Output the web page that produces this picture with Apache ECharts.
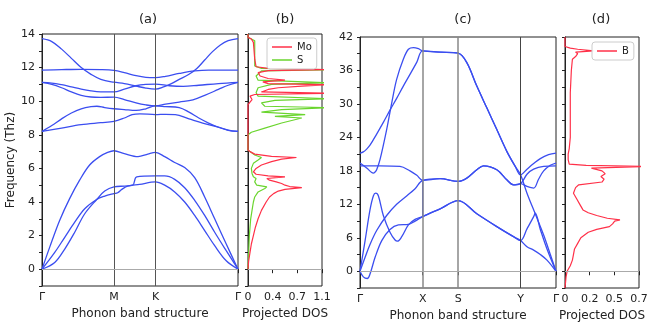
<!DOCTYPE html>
<html><head><meta charset="utf-8">
<script src="https://cdn.jsdelivr.net/npm/echarts@6/dist/echarts.min.js"></script>
<style>html,body{margin:0;padding:0;background:#fff}#c{width:657px;height:332px}</style>
</head><body><div id="c"></div>
<script>
// ---------- panel (a): MoS2 band structure (k as fraction of path) ----------
const aTickPos = [0, 0.367, 0.579, 1];
const aTickLabels = ['Γ', 'M', 'K', 'Γ'];
const aBandLA = [[0,0],[0.039,1.3],[0.09,2.9],[0.141,4.2],[0.192,5.3],[0.243,6.2],[0.294,6.7],[0.335,6.95],[0.367,7.05],[0.42,6.88],[0.49,6.7],[0.54,6.85],[0.579,6.95],[0.626,6.7],[0.677,6.35],[0.728,6.05],[0.779,5.45],[0.83,4.3],[0.881,3.0],[0.94,1.5],[1,0]];
const aBandTA = [[0,0],[0.065,1.0],[0.116,1.9],[0.167,2.8],[0.218,3.6],[0.279,4.15],[0.32,4.35],[0.367,4.5],[0.386,4.55],[0.407,4.75],[0.437,4.95],[0.498,5.05],[0.579,5.2],[0.626,5.0],[0.677,4.6],[0.728,4.0],[0.779,3.2],[0.83,2.3],[0.881,1.4],[0.94,0.5],[1,0]];
const aBandZA = [[0,0],[0.065,0.4],[0.116,1.2],[0.167,2.2],[0.218,3.3],[0.279,4.15],[0.32,4.65],[0.367,4.9],[0.422,4.95],[0.463,5.0],[0.483,5.5],[0.579,5.55],[0.626,5.55],[0.677,5.35],[0.728,4.85],[0.779,4.1],[0.83,3.2],[0.881,2.2],[0.94,1.1],[1,0]];
const aBandO1 = [[0,8.2],[0.1,8.4],[0.2,8.6],[0.3,8.72],[0.367,8.8],[0.42,9.0],[0.46,9.2],[0.5,9.25],[0.579,9.2],[0.63,9.22],[0.68,9.2],[0.75,8.95],[0.82,8.7],[0.9,8.45],[0.95,8.28],[1,8.2]];
const aBandO2 = [[0,8.2],[0.05,8.55],[0.1,8.95],[0.15,9.3],[0.2,9.55],[0.25,9.68],[0.28,9.7],[0.32,9.62],[0.367,9.55],[0.42,9.5],[0.48,9.45],[0.53,9.55],[0.579,9.72],[0.63,9.68],[0.7,9.62],[0.75,9.35],[0.8,9.0],[0.85,8.7],[0.9,8.45],[0.95,8.27],[1,8.2]];
const aBandO3 = [[0,11.12],[0.05,11.0],[0.1,10.8],[0.15,10.55],[0.2,10.35],[0.25,10.25],[0.3,10.23],[0.367,10.24],[0.42,10.1],[0.48,9.9],[0.53,9.78],[0.579,9.72],[0.63,9.82],[0.7,9.95],[0.77,10.08],[0.83,10.35],[0.9,10.7],[0.95,10.95],[1,11.12]];
const aBandO4 = [[0,11.12],[0.05,11.08],[0.1,10.98],[0.15,10.85],[0.2,10.72],[0.25,10.62],[0.3,10.56],[0.367,10.55],[0.42,10.72],[0.48,10.92],[0.53,11.0],[0.579,11.02],[0.65,10.92],[0.72,10.88],[0.8,10.95],[0.9,11.05],[1,11.12]];
const aBandO5 = [[0,11.85],[0.1,11.88],[0.2,11.9],[0.3,11.88],[0.367,11.83],[0.42,11.7],[0.48,11.52],[0.53,11.42],[0.579,11.4],[0.63,11.48],[0.7,11.65],[0.78,11.8],[0.85,11.85],[1,11.85]];
const aBandO6 = [[0,13.72],[0.05,13.55],[0.1,13.1],[0.15,12.55],[0.2,12.0],[0.25,11.6],[0.3,11.3],[0.367,11.13],[0.42,11.05],[0.48,10.9],[0.53,10.78],[0.579,10.72],[0.62,10.85],[0.66,11.05],[0.7,11.3],[0.75,11.6],[0.79,11.95],[0.83,12.45],[0.87,12.95],[0.91,13.35],[0.95,13.6],[1,13.72]];
const aBands = [aBandLA, aBandTA, aBandZA, aBandO1, aBandO2, aBandO3, aBandO4, aBandO5, aBandO6];

// ---------- panel (b): projected DOS, [frequency, DOS] ----------
const bMo = [[0,0],[0.5,0.01],[1,0.03],[1.5,0.05],[2,0.08],[2.5,0.11],[3,0.15],[3.5,0.2],[4,0.27],[4.3,0.32],[4.5,0.38],[4.65,0.45],[4.75,0.55],[4.85,0.8],[4.92,0.62],[5.0,0.55],[5.1,0.5],[5.2,0.42],[5.3,0.32],[5.4,0.28],[5.5,0.55],[5.55,0.3],[5.65,0.12],[5.8,0.08],[6.0,0.12],[6.2,0.2],[6.4,0.35],[6.55,0.5],[6.65,0.72],[6.72,0.35],[6.85,0.1],[7.0,0.03],[7.1,0],[9.8,0],[9.9,0.02],[10.1,0.06],[10.3,0.03],[10.4,0.1],[10.47,1.2],[10.55,0.2],[10.7,0.3],[10.8,0.45],[10.9,0.8],[10.98,1.2],[11.05,0.3],[11.15,0.22],[11.25,0.55],[11.35,0.3],[11.5,0.18],[11.7,0.15],[11.82,0.3],[11.88,1.2],[11.95,0.3],[12.05,0.12],[12.5,0.1],[13,0.09],[13.5,0.08],[13.7,0.05],[13.8,0],[14,0]];
const bS = [[0,0],[1,0.01],[2,0.02],[3,0.04],[3.5,0.06],[4,0.08],[4.3,0.1],[4.6,0.15],[4.8,0.25],[4.9,0.28],[5.0,0.13],[5.2,0.1],[5.4,0.12],[5.5,0.08],[5.7,0.06],[6.0,0.05],[6.3,0.08],[6.5,0.15],[6.65,0.2],[6.8,0.1],[7.0,0.03],[7.1,0],[8.0,0],[8.15,0.05],[8.4,0.25],[8.7,0.5],[9.0,0.8],[9.1,0.4],[9.2,0.85],[9.35,0.2],[9.5,0.5],[9.62,1.2],[9.7,0.25],[9.9,0.2],[10.05,0.4],[10.15,1.2],[10.3,0.15],[10.5,0.12],[10.8,0.15],[11.0,0.35],[11.1,1.2],[11.25,0.15],[11.5,0.12],[11.8,0.2],[11.87,1.2],[11.95,0.2],[12.1,0.1],[13,0.1],[13.6,0.1],[13.75,0.03],[13.8,0],[14,0]];
const bTicks = [0, 0.3667, 0.7333, 1.1];

// ---------- panel (c): boron band structure ----------
const cTickPos = [0, 0.320, 0.501, 0.819, 1];
const cTickLabels = ['Γ', 'X', 'S', 'Y', 'Γ'];
const cBand1 = [[0,21.2],[0.017,21.4],[0.034,21.9],[0.051,22.6],[0.085,24.6],[0.119,26.7],[0.153,28.9],[0.187,31.0],[0.221,33.2],[0.255,35.3],[0.29,37.5],[0.32,39.5],[0.409,39.3],[0.501,39.1],[0.545,37.4],[0.596,33.2],[0.647,29.3],[0.698,25.4],[0.749,21.5],[0.792,18.8],[0.819,17.3],[0.852,18.3],[0.886,19.3],[0.92,20.2],[0.962,20.9],[1,21.2]];
const cBand2 = [[0,19.4],[0.034,18.5],[0.06,17.7],[0.068,17.6],[0.077,17.8],[0.085,18.2],[0.102,20.0],[0.136,25.4],[0.162,30.2],[0.187,34.4],[0.221,38.0],[0.247,39.8],[0.273,40.1],[0.298,39.9],[0.32,39.5],[0.409,39.3],[0.501,39.1],[0.545,37.4],[0.596,33.2],[0.647,29.3],[0.698,25.4],[0.749,21.5],[0.792,18.8],[0.819,17.3],[0.852,14.0],[0.894,10.3],[0.937,6.5],[0.971,3.0],[1,0]];
const cBand3 = [[0,18.9],[0.102,18.9],[0.204,18.8],[0.255,18.0],[0.29,17.2],[0.32,16.3],[0.409,16.6],[0.501,16.1],[0.545,16.7],[0.596,18.2],[0.63,18.9],[0.698,18.2],[0.749,16.4],[0.783,15.5],[0.819,15.7],[0.852,15.2],[0.886,14.9],[0.911,16.5],[0.937,18.0],[0.971,19.0],[1,19.4]];
const cBand4 = [[0,0],[0.026,2.5],[0.051,4.8],[0.085,7.3],[0.136,10.0],[0.187,12.0],[0.238,13.5],[0.281,14.8],[0.32,16.3],[0.409,16.6],[0.501,16.1],[0.545,16.7],[0.596,18.2],[0.63,18.9],[0.698,18.2],[0.749,16.4],[0.783,15.5],[0.819,15.7],[0.852,17.4],[0.886,18.3],[0.937,18.8],[1,18.9]];
const cBand5 = [[0,0],[0.017,-1.0],[0.037,-1.3],[0.051,-0.5],[0.077,2.5],[0.111,5.5],[0.153,7.5],[0.196,8.3],[0.247,8.4],[0.281,9.0],[0.32,9.8],[0.409,11.2],[0.501,12.65],[0.596,10.3],[0.698,8.0],[0.783,6.2],[0.819,5.5],[0.852,7.6],[0.886,9.8],[0.894,10.4],[0.92,7.5],[0.954,4.0],[1,0]];
const cBand6 = [[0,0],[0.026,5.5],[0.051,11.0],[0.068,13.5],[0.08,14.0],[0.094,13.5],[0.119,10.0],[0.153,7.0],[0.179,5.6],[0.191,5.4],[0.213,6.2],[0.247,8.3],[0.281,9.3],[0.32,9.8],[0.409,11.2],[0.501,12.65],[0.596,10.3],[0.698,8.0],[0.783,6.2],[0.819,5.5],[0.852,4.4],[0.886,3.8],[0.92,3.0],[0.954,2.0],[1,0]];
const cBandX = [[0.32,9.8],[0.32,16.3]];
const cBands = [cBand1, cBand2, cBand3, cBand4, cBand5, cBand6, cBandX];

// ---------- panel (d): projected DOS of B ----------
const dB = [[-3,0],[-2,0.005],[-1,0.01],[0,0.02],[1,0.05],[2,0.07],[3,0.08],[4,0.09],[5,0.12],[6,0.15],[7,0.22],[7.5,0.3],[8,0.42],[8.5,0.45],[9,0.47],[9.2,0.52],[9.5,0.4],[10,0.3],[10.5,0.22],[11,0.17],[12,0.14],[13,0.11],[14,0.08],[15,0.1],[15.5,0.13],[16,0.35],[16.5,0.37],[17,0.34],[17.5,0.38],[18,0.35],[18.5,0.25],[18.8,0.8],[19.0,0.2],[19.2,0.04],[20,0.03],[21,0.03],[22,0.04],[24,0.05],[28,0.05],[32,0.05],[36,0.06],[38,0.07],[38.5,0.1],[39,0.12],[39.3,0.1],[39.5,0.27],[39.8,0.12],[40,0.05],[40.3,0],[42,0]];
const dTicks = [0, 0.2333, 0.4667, 0.7];

const BLUE = '#3b4ef0', RED = '#ff3048', GREEN = '#6ad52e';
const FONT = 'DejaVu Sans';
const chart = echarts.init(document.getElementById('c'));

const grids = [
  {left: 42, top: 34, width: 196, height: 252},
  {left: 248, top: 34, width: 74, height: 252},
  {left: 360, top: 37, width: 196, height: 251},
  {left: 565, top: 37, width: 74, height: 251}
].map(g => Object.assign({show: true, borderColor: '#222', borderWidth: 1, backgroundColor: 'transparent'}, g));

const lab = {fontFamily: FONT, fontSize: 11, color: '#222'};
function pathAxis(gi, pos, names) {
  return {type: 'value', gridIndex: gi, min: 0, max: 1,
    axisLine: {lineStyle: {color: '#222'}},
    axisTick: {customValues: pos, length: 4, lineStyle: {color: '#222'}},
    axisLabel: Object.assign({customValues: pos, margin: 6, formatter: v => {const i = pos.findIndex(p => Math.abs(p - v) < 1e-6); return i >= 0 ? names[i] : '';}}, lab),
    splitLine: {show: false},
    name: 'Phonon band structure', nameLocation: 'middle', nameGap: 19,
    nameTextStyle: {fontFamily: FONT, fontSize: 12, color: '#222'}};
}
function dosAxis(gi, max, ticks) {
  return {type: 'value', gridIndex: gi, min: 0, max: max,
    axisLine: {lineStyle: {color: '#222'}},
    axisTick: {customValues: ticks, length: 4, lineStyle: {color: '#222'}},
    axisLabel: Object.assign({customValues: ticks, margin: 6, formatter: v => v === 0 ? '0' : v.toFixed(1)}, lab),
    splitLine: {show: false},
    name: 'Projected DOS', nameLocation: 'middle', nameGap: 19,
    nameTextStyle: {fontFamily: FONT, fontSize: 12, color: '#222'}};
}
function freqAxis(gi, min, max, step, lblStep, showLabels, name) {
  return {type: 'value', gridIndex: gi, min: min, max: max, interval: step,
    axisLine: {lineStyle: {color: '#222'}},
    axisTick: {length: 3, lineStyle: {color: '#222'}},
    axisLabel: Object.assign({show: showLabels, margin: 7, formatter: v => (v >= 0 && Math.abs(v % lblStep) < 1e-6) ? String(v) : ''}, lab),
    splitLine: {show: false},
    name: name || '', nameLocation: 'middle', nameGap: 25, nameRotate: 90,
    nameTextStyle: {fontFamily: FONT, fontSize: 12, color: '#222'}};
}

const series = [];
const lineBase = {type: 'line', showSymbol: false, symbol: 'none', silent: true, animation: false};
aBands.forEach((b, i) => series.push(Object.assign({}, lineBase, {
  name: 'a' + i, xAxisIndex: 0, yAxisIndex: 0, data: b, smooth: 0.35,
  lineStyle: {color: BLUE, width: 1.3}, z: 3,
  markLine: i === 0 ? {silent: true, symbol: 'none', label: {show: false}, animation: false,
    data: [{xAxis: aTickPos[1], lineStyle: {color: '#555', width: 1, type: 'solid'}},
           {xAxis: aTickPos[2], lineStyle: {color: '#555', width: 1, type: 'solid'}},
           {yAxis: 0, lineStyle: {color: '#aaa', width: 1, type: 'solid'}}]} : undefined
})));
series.push(Object.assign({}, lineBase, {name: 'Mo', xAxisIndex: 1, yAxisIndex: 1,
  data: bMo.map(p => [p[1], p[0]]), lineStyle: {color: RED, width: 1.2}, itemStyle: {color: RED}, z: 4,
  markLine: {silent: true, symbol: 'none', label: {show: false}, animation: false,
    data: [{yAxis: 0, lineStyle: {color: '#aaa', width: 1, type: 'solid'}}]}}));
series.push(Object.assign({}, lineBase, {name: 'S', xAxisIndex: 1, yAxisIndex: 1,
  data: bS.map(p => [p[1], p[0]]), lineStyle: {color: GREEN, width: 1.2}, itemStyle: {color: GREEN}, z: 3}));
cBands.forEach((b, i) => series.push(Object.assign({}, lineBase, {
  name: 'c' + i, xAxisIndex: 2, yAxisIndex: 2, data: b, smooth: 0.35,
  lineStyle: {color: BLUE, width: 1.3}, z: 3,
  markLine: i === 0 ? {silent: true, symbol: 'none', label: {show: false}, animation: false,
    data: [{xAxis: cTickPos[1], lineStyle: {color: '#888', width: 1.5, type: 'solid'}},
           {xAxis: cTickPos[2], lineStyle: {color: '#888', width: 1.5, type: 'solid'}},
           {xAxis: cTickPos[3], lineStyle: {color: '#444', width: 1, type: 'solid'}},
           {yAxis: 0, lineStyle: {color: '#aaa', width: 1, type: 'solid'}}]} : undefined
})));
series.push(Object.assign({}, lineBase, {name: 'B', xAxisIndex: 3, yAxisIndex: 3,
  data: dB.map(p => [p[1], p[0]]), lineStyle: {color: RED, width: 1.2}, itemStyle: {color: RED}, z: 4,
  markLine: {silent: true, symbol: 'none', label: {show: false}, animation: false,
    data: [{yAxis: 0, lineStyle: {color: '#aaa', width: 1, type: 'solid'}}]}}));

const legendBase = {orient: 'vertical', icon: 'rect', itemWidth: 20, itemHeight: 1.5, itemGap: 3,
  padding: [4, 5, 4, 5], borderColor: '#ccc', borderWidth: 1, borderRadius: 3, z: 20,
  backgroundColor: 'rgba(255,255,255,0.9)', textStyle: {fontFamily: FONT, fontSize: 10, color: '#222'}};

chart.setOption({
  animation: false,
  grid: grids,
  xAxis: [pathAxis(0, aTickPos, aTickLabels), dosAxis(1, 1.1, bTicks), pathAxis(2, cTickPos, cTickLabels), dosAxis(3, 0.7, dTicks)],
  yAxis: [freqAxis(0, -1, 14, 1, 2, true, 'Frequency (Thz)'), freqAxis(1, -1, 14, 1, 2, false), freqAxis(2, -3, 42, 3, 6, true), freqAxis(3, -3, 42, 3, 6, false)],
  legend: [Object.assign({}, legendBase, {data: ['Mo', 'S'], left: 267, top: 38}),
           Object.assign({}, legendBase, {data: ['B'], left: 592, top: 42})],
  graphic: [
    {type: 'text', x: 148, y: 20, style: {text: '(a)', font: '13px "DejaVu Sans"', fill: '#222', textAlign: 'center', textVerticalAlign: 'middle'}},
    {type: 'text', x: 285, y: 20, style: {text: '(b)', font: '13px "DejaVu Sans"', fill: '#222', textAlign: 'center', textVerticalAlign: 'middle'}},
    {type: 'text', x: 463, y: 20, style: {text: '(c)', font: '13px "DejaVu Sans"', fill: '#222', textAlign: 'center', textVerticalAlign: 'middle'}},
    {type: 'text', x: 601, y: 20, style: {text: '(d)', font: '13px "DejaVu Sans"', fill: '#222', textAlign: 'center', textVerticalAlign: 'middle'}}
  ],
  series: series
});
</script></body></html>
